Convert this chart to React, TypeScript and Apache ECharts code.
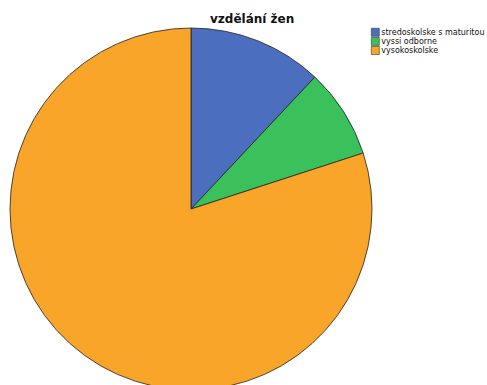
import React, { useEffect, useRef } from "react";
import * as echarts from "echarts";

const categories = ["stredoskolske s maturitou", "vyssi odborne", "vysokoskolske"];
const values = [3, 2, 20];
const colors = ["#4b6ebe", "#3ac15c", "#f9a529"];

export default function App() {
  const ref = useRef<HTMLDivElement>(null);
  useEffect(() => {
    const chart = echarts.init(ref.current!, null, { renderer: "svg" });
    chart.setOption({
      animation: false,
      backgroundColor: "#ffffff",
      title: {
        text: "vzdělání žen",
        left: 205,
        top: 8,
        textStyle: { fontFamily: "DejaVu Sans", fontSize: 12, fontWeight: "bold", color: "#111" },
      },
      legend: {
        orient: "vertical",
        left: 366,
        top: 23,
        itemWidth: 8,
        itemHeight: 8,
        itemGap: 0.5,
        icon: "rect",
        data: categories,
        textStyle: { fontFamily: "DejaVu Sans", fontSize: 8, color: "#111", padding: [0, 0, 0, -3] },
        itemStyle: { borderColor: "#333", borderWidth: 0.6 },
      },
      series: [
        {
          type: "pie",
          center: [191, 209],
          radius: 181,
          startAngle: 90,
          clockwise: true,
          label: { show: false },
          labelLine: { show: false },
          itemStyle: { borderColor: "#222", borderWidth: 0.8 },
          data: categories.map((c, i) => ({ name: c, value: values[i], itemStyle: { color: colors[i] } })),
        },
      ],
    });
    return () => chart.dispose();
  }, []);
  return <div ref={ref} style={{ position: "fixed", left: 0, top: 0, width: 487, height: 385 }} />;
}
